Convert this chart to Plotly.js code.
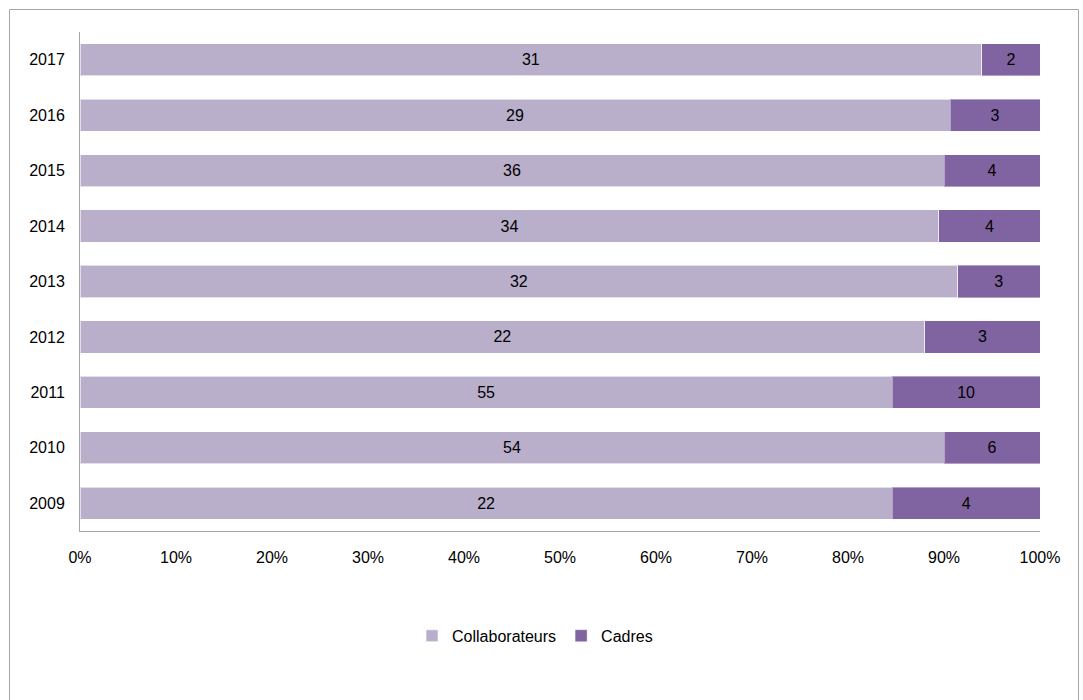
<!DOCTYPE html>
<html>
<head>
<meta charset="utf-8">
<script src="https://cdn.plot.ly/plotly-3.0.1.min.js"></script>
<style>html,body{margin:0;padding:0;background:#fff;}#chart{width:1083px;height:700px;}</style>
</head>
<body>
<div id="chart"></div>
<script>
const years = ['2009','2010','2011','2012','2013','2014','2015','2016','2017'];
const collaborateurs = [22, 54, 55, 22, 32, 34, 36, 29, 31];
const cadres = [4, 6, 10, 3, 3, 4, 4, 3, 2];
const xTickVals = [0,10,20,30,40,50,60,70,80,90,100];
const xTickText = ['0%','10%','20%','30%','40%','50%','60%','70%','80%','90%','100%'];

// shares of the yearly total (100% stacked)
const totals = collaborateurs.map((v, i) => v + cadres[i]);
const collabPct = collaborateurs.map((v, i) => 100 * v / totals[i]);
const cadresPct = cadres.map((v, i) => 100 * v / totals[i]);

const FONT = 'Liberation Sans, Arial, sans-serif';
const common = {
  type: 'bar', orientation: 'h', y: years,
  texttemplate: '%{text}', textposition: 'inside', insidetextanchor: 'middle',
  constraintext: 'none', textangle: 0,
  textfont: {family: FONT, size: 16, color: '#000'},
  hoverinfo: 'none', cliponaxis: false
};
const data = [
  Object.assign({}, common, {name: 'Collaborateurs', x: collabPct, text: collaborateurs.map(String),
    marker: {color: '#B9AFCB', line: {color: 'rgba(255,255,255,0.6)', width: 1}}}),
  Object.assign({}, common, {name: 'Cadres', x: cadresPct, text: cadres.map(String),
    marker: {color: '#8064A2', line: {color: 'rgba(255,255,255,0.4)', width: 1}}})
];
const layout = {
  width: 1083, height: 700,
  margin: {l: 80, r: 43, t: 32, b: 169, pad: 0},
  barmode: 'stack', bargap: 0.42,
  paper_bgcolor: '#fff', plot_bgcolor: '#fff',
  font: {family: FONT, size: 16, color: '#000'},
  showlegend: true,
  legend: {orientation: 'h', x: 0.474, xanchor: 'center', y: -0.21, yanchor: 'middle',
    font: {size: 16}, traceorder: 'normal', itemwidth: 30},
  xaxis: {range: [0, 100], tickmode: 'array', tickvals: xTickVals, ticktext: xTickText, showgrid: false, zeroline: false,
    showline: true, linecolor: '#A6A6A6', linewidth: 1, ticks: '', ticklabelstandoff: 12, fixedrange: true,
    tickfont: {size: 16}},
  yaxis: {type: 'category', showgrid: false, zeroline: false, showline: true, linecolor: '#A6A6A6',
    linewidth: 1, ticks: '', ticklabelstandoff: 11, fixedrange: true, tickfont: {size: 16}},
  shapes: [{type: 'rect', xref: 'paper', yref: 'paper',
    x0: (9.5-80)/960, x1: (1078.5-80)/960, y0: (531-720)/499, y1: 1 + (32-9.5)/499,
    line: {color: '#A6A6A6', width: 1}, fillcolor: 'rgba(0,0,0,0)', layer: 'below'}]
};
Plotly.newPlot('chart', data, layout, {displayModeBar: false, staticPlot: true});
</script>
</body>
</html>
